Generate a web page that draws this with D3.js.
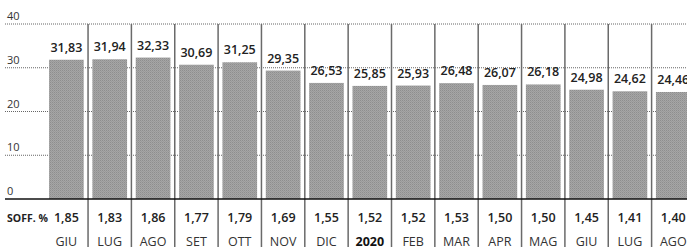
<!DOCTYPE html>
<html>
<head>
<meta charset="utf-8">
<script src="https://cdn.jsdelivr.net/npm/d3@7"></script>
<style>
  body { margin: 0; background: #fff; }
  svg { display: block; font-family: "Open Sans", "DejaVu Sans", sans-serif; }
</style>
</head>
<body>
<svg></svg>
<script>
// Chart data
let months = ['GIU', 'LUG', 'AGO', 'SET', 'OTT', 'NOV', 'DIC', '2020', 'FEB', 'MAR', 'APR', 'MAG', 'GIU', 'LUG', 'AGO'];
let values = [31.83, 31.94, 32.33, 30.69, 31.25, 29.35, 26.53, 25.85, 25.93, 26.48, 26.07, 26.18, 24.98, 24.62, 24.46];
let soff = [1.85, 1.83, 1.86, 1.77, 1.79, 1.69, 1.55, 1.52, 1.52, 1.53, 1.50, 1.50, 1.45, 1.41, 1.40];
let yTicks = [0, 10, 20, 30, 40];

// SVG Dimensions
let width = 687, height = 251;
let left = 44.7, step = 43.35;
let baseY = 199, topY = 24;

let svg = d3.select('svg').attr('width', width).attr('height', height);

// Italian number format (decimal comma)
let it = d3.formatLocale({ decimal: ',', thousands: '.', grouping: [3], currency: ['€', ''] });
let fmt = it.format('.2f');

// Scales
let xScale = d3.scaleBand()
    .domain(d3.range(months.length))
    .range([left, left + step * months.length])
    .paddingInner(0.2)
    .paddingOuter(0.1);

let yScale = d3.scaleLinear()
    .domain([0, 40])
    .range([baseY, topY]);

// Grey texture for the bars
let pat = svg.append('defs').append('pattern')
    .attr('id', 'grain')
    .attr('width', 2).attr('height', 2)
    .attr('patternUnits', 'userSpaceOnUse');
pat.append('rect').attr('width', 2).attr('height', 2).attr('fill', '#a6a6a6');
pat.append('rect').attr('width', 1).attr('height', 1).attr('fill', '#8e8e8e');
pat.append('rect').attr('x', 1).attr('y', 1).attr('width', 1).attr('height', 1).attr('fill', '#9a9a9a');

// Dotted gridlines + y labels
let grid = svg.append('g');
grid.selectAll('line')
    .data(yTicks.filter(d => d > 0))
    .enter()
    .append('line')
    .attr('x1', 5).attr('x2', width)
    .attr('y1', d => yScale(d)).attr('y2', d => yScale(d))
    .attr('stroke', '#666')
    .attr('stroke-width', 1)
    .attr('stroke-dasharray', '1,1');

grid.selectAll('text')
    .data(yTicks)
    .enter()
    .append('text')
    .attr('x', 7)
    .attr('y', d => yScale(d) - 4)
    .attr('font-size', 11)
    .attr('fill', '#333')
    .text(d => d);

// Bars
svg.selectAll('rect.bar')
    .data(values)
    .enter()
    .append('rect')
    .attr('class', 'bar')
    .attr('x', (d, i) => xScale(i))
    .attr('width', xScale.bandwidth())
    .attr('y', d => yScale(d))
    .attr('height', d => baseY - yScale(d))
    .attr('fill', 'url(#grain)');

// Value labels
svg.selectAll('text.val')
    .data(values)
    .enter()
    .append('text')
    .attr('class', 'val')
    .attr('x', (d, i) => xScale(i) + xScale.bandwidth() / 2)
    .attr('y', d => yScale(d) - 8)
    .attr('text-anchor', 'middle')
    .attr('font-size', 12.5)
    .attr('font-weight', 600)
    .attr('fill', '#222')
    .text(d => fmt(d));

// Column separators
svg.selectAll('line.sep')
    .data(d3.range(1, months.length))
    .enter()
    .append('line')
    .attr('class', 'sep')
    .attr('x1', i => xScale(i) - xScale.step() * 0.1)
    .attr('x2', i => xScale(i) - xScale.step() * 0.1)
    .attr('y1', topY)
    .attr('y2', 247)
    .attr('stroke', '#6a6a6a')
    .attr('stroke-width', 1.5);

// Baseline
svg.append('line')
    .attr('x1', 5).attr('x2', width)
    .attr('y1', baseY).attr('y2', baseY)
    .attr('stroke', '#111')
    .attr('stroke-width', 1.5);

// SOFF. % row
svg.append('text')
    .attr('x', 7).attr('y', 222)
    .attr('font-size', 10.5)
    .attr('font-weight', 700)
    .attr('fill', '#222')
    .text('SOFF. %');

svg.selectAll('text.soff')
    .data(soff)
    .enter()
    .append('text')
    .attr('class', 'soff')
    .attr('x', (d, i) => xScale(i) + xScale.bandwidth() / 2)
    .attr('y', 222)
    .attr('text-anchor', 'middle')
    .attr('font-size', 12.5)
    .attr('font-weight', 600)
    .attr('fill', '#222')
    .text(d => fmt(d));

// Month labels
svg.selectAll('text.month')
    .data(months)
    .enter()
    .append('text')
    .attr('class', 'month')
    .attr('x', (d, i) => xScale(i) + xScale.bandwidth() / 2)
    .attr('y', 246)
    .attr('text-anchor', 'middle')
    .attr('font-size', 12.5)
    .attr('font-weight', d => d === '2020' ? 700 : 400)
    .attr('fill', d => d === '2020' ? '#111' : '#333')
    .text(d => d);
</script>
</body>
</html>
